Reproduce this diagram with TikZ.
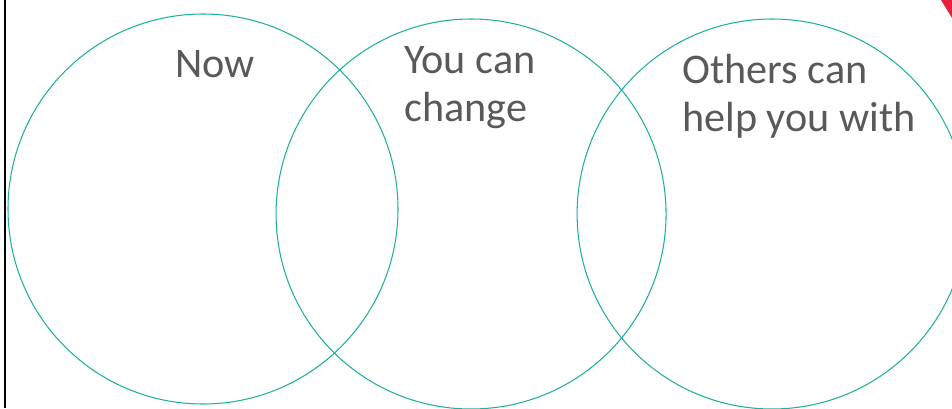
\documentclass[tikz,border=0pt]{standalone}
\usepackage{fontspec}
\setmainfont{Carlito}
\usepackage{xcolor}
\usepackage{tikz}
\usetikzlibrary{positioning}

\definecolor{setteal}{HTML}{1FB09E}
\definecolor{labelgray}{HTML}{595959}
\definecolor{cornerred}{HTML}{E8213B}

\begin{document}
\begin{tikzpicture}[
    setcircle/.style={circle, draw=setteal, line width=0.6pt, minimum size=7.8cm, inner sep=0pt},
    setlabel/.style={anchor=base west, inner sep=0pt, align=left, text=labelgray,
        font=\fontsize{24}{27}\selectfont}]
    \useasboundingbox (0,0) rectangle (19.04,8.16);

    % the three sets
    \node[setcircle] (now) at (4.06,3.98) {};
    \node[setcircle, right=-2.46cm of now, yshift=-0.1cm] (change) {};
    \node[setcircle, right=-1.80cm of change] (others) {};

    % labels (base = last line)
    \node[setlabel] (nowtext) at (3.50,6.62) {Now};
    \node[setlabel] (changetext) at (8.08,5.74) {You can\\change};
    \node[setlabel] (otherstext) at (13.64,5.54) {Others can\\help you with};

    % frame edge and corner
    \coordinate (edgetop) at (0.10,8.16);
    \coordinate (edgebottom) at (0.10,0);
    \draw[line width=1.2pt] (edgetop) -- (edgebottom);
    \fill[cornerred] (18.82,8.16) -- (19.04,8.16) -- (19.04,7.80) -- cycle;
\end{tikzpicture}
\end{document}
